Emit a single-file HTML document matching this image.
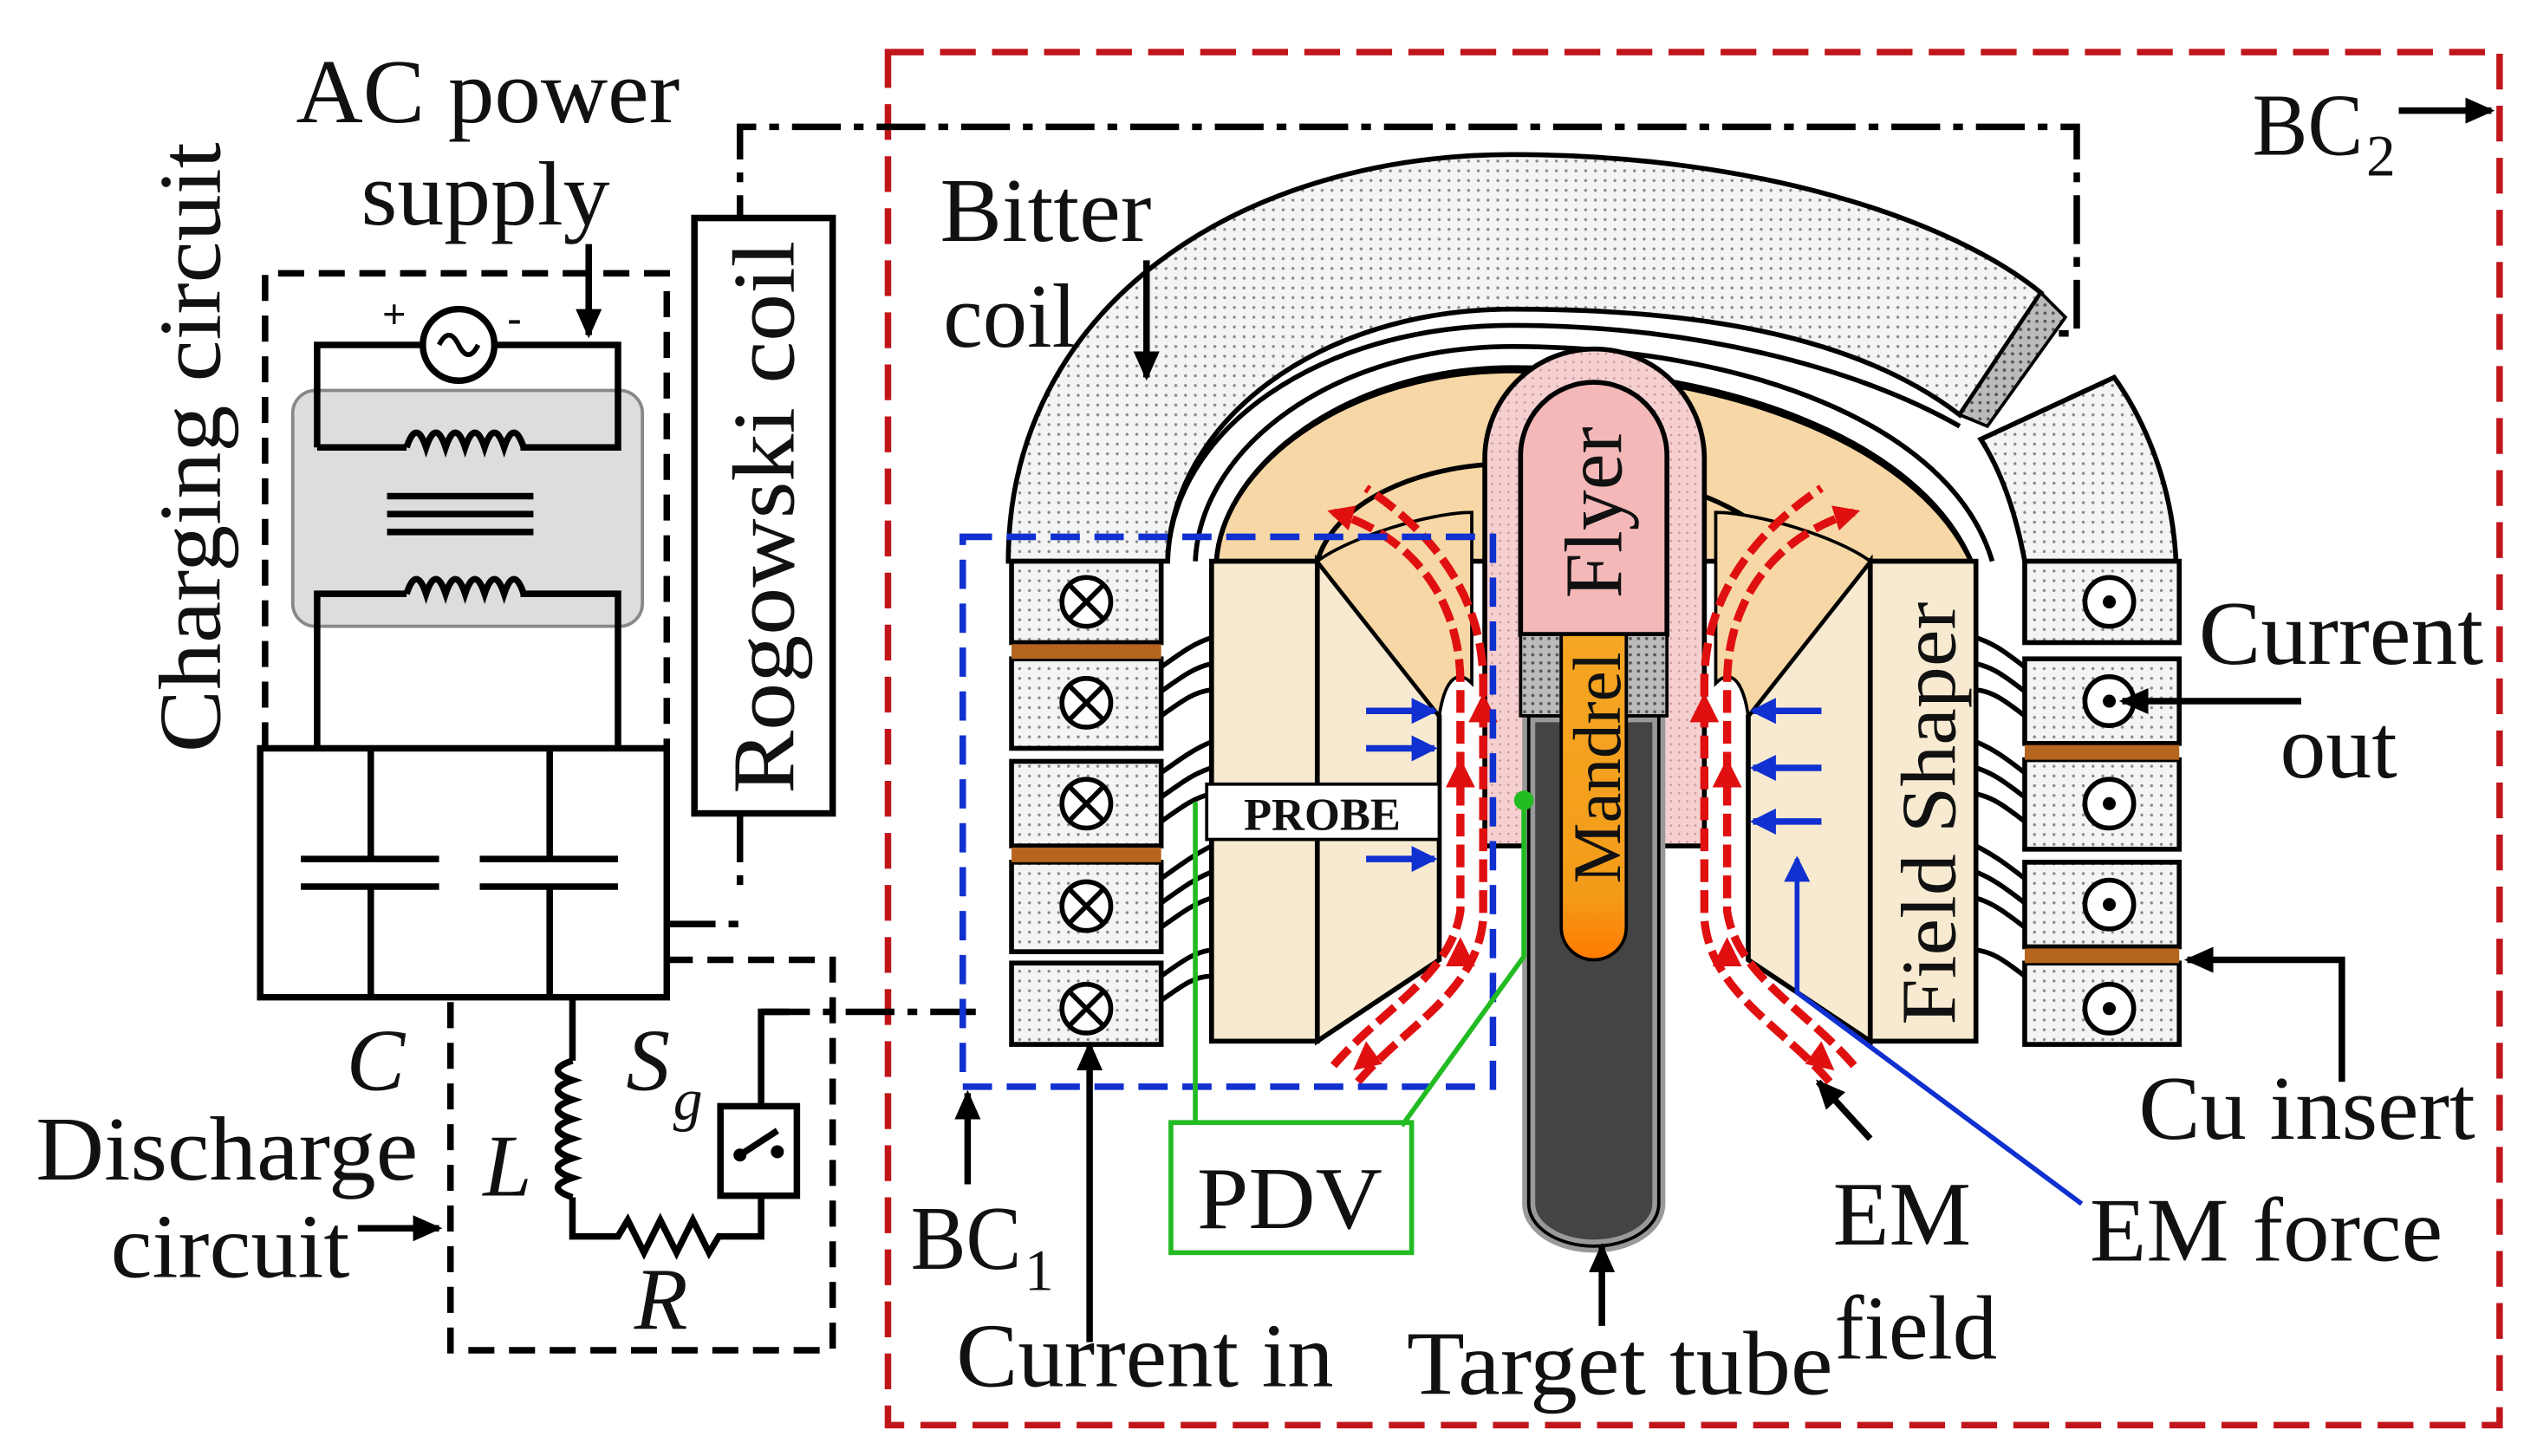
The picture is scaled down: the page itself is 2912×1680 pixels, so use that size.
<!DOCTYPE html>
<html><head><meta charset="utf-8"><style>
html,body{margin:0;padding:0;background:#fff;}
svg{display:block;}
text{font-family:"Liberation Serif",serif;fill:#111;}
</style></head><body>
<svg width="2912" height="1680" viewBox="0 0 1552 895" preserveAspectRatio="none" xmlns="http://www.w3.org/2000/svg">
<defs>
<pattern id="dots" width="6" height="6" patternUnits="userSpaceOnUse"><rect width="6" height="6" fill="#f4f4f4"/><circle cx="3" cy="3" r="0.9" fill="#888"/></pattern>
<pattern id="dots2" width="5" height="5" patternUnits="userSpaceOnUse"><rect width="5" height="5" fill="#bbb"/><circle cx="2.5" cy="2.5" r="1" fill="#555"/></pattern>
<pattern id="pdots" width="5" height="5" patternUnits="userSpaceOnUse"><rect width="5" height="5" fill="#f6d0d0"/><circle cx="2.5" cy="2.5" r="0.7" fill="#c99"/></pattern>
<linearGradient id="mand" x1="0" y1="0" x2="0" y2="1"><stop offset="0" stop-color="#f5a623"/><stop offset="0.8" stop-color="#f39c1a"/><stop offset="1" stop-color="#ff7a00"/></linearGradient>
<marker id="abk" markerWidth="20" markerHeight="20" refX="16" refY="10" orient="auto" markerUnits="userSpaceOnUse"><path d="M0,2 L18,10 L0,18 Z" fill="#000"/></marker>
<marker id="abl" markerWidth="18" markerHeight="18" refX="14" refY="9" orient="auto" markerUnits="userSpaceOnUse"><path d="M0,1 L16,9 L0,17 Z" fill="#1030d0"/></marker>
<marker id="abr" markerWidth="18" markerHeight="18" refX="12" refY="9" orient="auto" markerUnits="userSpaceOnUse"><path d="M0,1 L16,9 L0,17 Z" fill="#e01010"/></marker>
</defs>

<rect x="546" y="32" width="991" height="844" fill="none" stroke="#c0161b" stroke-width="4" stroke-dasharray="22 10"/>
<text x="1385" y="95" font-size="54" textLength="68" lengthAdjust="spacingAndGlyphs">BC</text><text x="1455" y="108" font-size="36">2</text>
<line x1="1475" y1="68" x2="1532" y2="68" stroke="#000" stroke-width="4" marker-end="url(#abk)"/>

<path d="M455 150 V78 H1277 V205 H1255" fill="none" stroke="#000" stroke-width="4" stroke-dasharray="30 8 6 8"/>
<path d="M455 500 V550 M410 568 H460 M468 622 H600" fill="none" stroke="#000" stroke-width="4" stroke-dasharray="30 8 6 8"/>

<path d="M620 345 C620 190 760 95 930 95 C1080 95 1200 135 1255 180 L1205 255 C1140 205 1040 190 930 190 C810 190 720 260 718 345 Z" fill="url(#dots)" stroke="#000" stroke-width="3"/>
<path d="M1255 180 L1270 195 L1222 262 L1205 255 Z" fill="url(#dots2)" stroke="#000" stroke-width="2"/>
<path d="M718 345 C720 265 810 200 930 200 C1050 200 1150 230 1205 268 L1238 345 Z" fill="#fff" stroke="none"/>
<path d="M718 345 C720 265 810 200 930 200 C1040 200 1140 225 1205 262" fill="none" stroke="#000" stroke-width="3"/>
<path d="M735 345 C738 275 820 213 930 213 C1070 213 1200 260 1225 345" fill="none" stroke="#000" stroke-width="3"/>
<path d="M748 345 C752 285 830 226 930 226 C1060 226 1180 270 1212 345" fill="none" stroke="#000" stroke-width="3"/>
<path d="M1218 270 L1300 232 C1320 260 1336 300 1338 345 L1245 345 C1240 318 1232 292 1218 270 Z" fill="url(#dots)" stroke="#000" stroke-width="3"/>

<path d="M748 345 C752 285 830 228 930 228 C1060 228 1178 272 1212 345 Z" fill="#f7d7a5" stroke="#000" stroke-width="3"/>
<path d="M810 345 C820 310 870 285 930 285 C1000 285 1080 305 1100 345" fill="none" stroke="#000" stroke-width="3"/>
<path d="M810 345 L885 440 M1150 345 L1075 440" stroke="#000" stroke-width="3"/>

<rect x="745" y="345" width="65" height="295" fill="#f7ead0" stroke="#000" stroke-width="3"/>
<path d="M810 345 L885 440 L885 590 L810 640 Z" fill="#f7ead0" stroke="#000" stroke-width="3"/>
<path d="M810 345 C830 330 880 315 905 315 L905 420 C895 410 888 420 885 440 Z" fill="#f7d7a5" stroke="#000" stroke-width="2"/>
<rect x="1150" y="345" width="65" height="295" fill="#f7ead0" stroke="#000" stroke-width="3"/>
<path d="M1150 345 L1075 440 L1075 590 L1150 640 Z" fill="#f7ead0" stroke="#000" stroke-width="3"/>
<path d="M1150 345 C1130 330 1080 315 1055 315 L1055 420 C1065 410 1072 420 1075 440 Z" fill="#f7d7a5" stroke="#000" stroke-width="2"/>
<text transform="translate(1202,500) rotate(-90)" font-size="48" text-anchor="middle" textLength="260" lengthAdjust="spacingAndGlyphs">Field Shaper</text>

<g stroke="#000" stroke-width="3">
<rect x="622" y="345" width="92" height="50" fill="url(#dots)"/>
<rect x="622" y="405" width="92" height="55" fill="url(#dots)"/>
<rect x="622" y="468" width="92" height="52" fill="url(#dots)"/>
<rect x="622" y="530" width="92" height="55" fill="url(#dots)"/>
<rect x="622" y="592" width="92" height="50" fill="url(#dots)"/>
</g>
<rect x="622" y="396" width="92" height="9" fill="#b5651d"/>
<rect x="622" y="521" width="92" height="9" fill="#b5651d"/>
<g fill="none" stroke="#000" stroke-width="3">
<path d="M714 410 C728 400 735 395 745 392 M714 425 C728 415 735 410 745 408 M714 440 C728 430 735 425 745 424 M714 475 C728 465 735 460 745 456 M714 490 C728 480 735 475 745 472 M714 505 C728 495 735 490 745 488 M714 540 C728 530 735 525 745 520 M714 555 C728 545 735 540 745 536 M714 570 C728 560 735 555 745 552 M714 600 C728 590 735 585 745 584 M714 615 C728 605 735 600 745 600"/>
</g>
<g fill="#fff" stroke="#000" stroke-width="3">
<circle cx="668" cy="370" r="15"/><circle cx="668" cy="432" r="15"/><circle cx="668" cy="494" r="15"/><circle cx="668" cy="557" r="15"/><circle cx="668" cy="620" r="15"/>
</g>
<g stroke="#000" stroke-width="3">
<path d="M657 359 L679 381 M679 359 L657 381"/>
<path d="M657 421 L679 443 M679 421 L657 443"/>
<path d="M657 483 L679 505 M679 483 L657 505"/>
<path d="M657 546 L679 568 M679 546 L657 568"/>
<path d="M657 609 L679 631 M679 609 L657 631"/>
</g>

<g stroke="#000" stroke-width="3">
<rect x="1245" y="345" width="95" height="50" fill="url(#dots)"/>
<rect x="1245" y="405" width="95" height="52" fill="url(#dots)"/>
<rect x="1245" y="467" width="95" height="55" fill="url(#dots)"/>
<rect x="1245" y="530" width="95" height="52" fill="url(#dots)"/>
<rect x="1245" y="592" width="95" height="50" fill="url(#dots)"/>
</g>
<rect x="1245" y="458" width="95" height="9" fill="#b5651d"/>
<rect x="1245" y="583" width="95" height="9" fill="#b5651d"/>
<g fill="none" stroke="#000" stroke-width="3">
<path d="M1245 410 C1232 400 1225 395 1215 392 M1245 425 C1232 415 1225 410 1215 408 M1245 440 C1232 430 1225 425 1215 424 M1245 475 C1232 465 1225 460 1215 456 M1245 490 C1232 480 1225 475 1215 472 M1245 505 C1232 495 1225 490 1215 488 M1245 540 C1232 530 1225 525 1215 520 M1245 555 C1232 545 1225 540 1215 536 M1245 570 C1232 560 1225 555 1215 552 M1245 600 C1232 590 1225 585 1215 584"/>
</g>
<g fill="#fff" stroke="#000" stroke-width="3">
<circle cx="1297" cy="370" r="15"/><circle cx="1297" cy="431" r="15"/><circle cx="1297" cy="494" r="15"/><circle cx="1297" cy="556" r="15"/><circle cx="1297" cy="620" r="15"/>
</g>
<g fill="#000"><circle cx="1297" cy="370" r="4"/><circle cx="1297" cy="431" r="4"/><circle cx="1297" cy="494" r="4"/><circle cx="1297" cy="556" r="4"/><circle cx="1297" cy="620" r="4"/></g>

<path d="M913 520 V282 A67 67 0 0 1 1048 282 V520 Z" fill="url(#pdots)" stroke="#000" stroke-width="3"/>
<path d="M935 390 V280 A45 45 0 0 1 1025 280 V390 Z" fill="#f4b8b8" stroke="#000" stroke-width="3"/>
<text transform="translate(997,315) rotate(-90)" font-size="50" text-anchor="middle">Flyer</text>
<path d="M940 440 V740 A40 26 0 0 0 1020 740 V440 Z" fill="#444" stroke="#999" stroke-width="8"/>
<path d="M940 440 V740 A40 26 0 0 0 1020 740 V440 Z" fill="none" stroke="#000" stroke-width="2"/>
<rect x="935" y="390" width="25" height="50" fill="url(#dots2)" stroke="#000" stroke-width="2"/>
<rect x="1000" y="390" width="25" height="50" fill="url(#dots2)" stroke="#000" stroke-width="2"/>
<path d="M960 390 V570 A20 20 0 0 0 1000 570 V390 Z" fill="url(#mand)" stroke="#000" stroke-width="2"/>
<text transform="translate(996,472) rotate(-90)" font-size="42" text-anchor="middle">Mandrel</text>

<g fill="none" stroke="#e01010" stroke-width="5" stroke-dasharray="14 5">
<path d="M820 655 C850 620 892 600 898 560 V420 C898 370 870 330 820 315" marker-end="url(#abr)"/>
<path d="M835 665 C865 630 908 610 912 565 V420 C912 370 885 330 840 300"/>
<path d="M1140 655 C1110 620 1068 600 1062 560 V420 C1062 370 1090 330 1140 315" marker-end="url(#abr)"/>
<path d="M1125 665 C1095 630 1052 610 1048 565 V420 C1048 370 1075 330 1120 300"/>
</g>
<g fill="#e01010">
<path d="M898 466 l-9 18 h18z M898 576 l-9 18 h18z M1062 466 l-9 18 h18z M1062 576 l-9 18 h18z M912 426 l-9 18 h18z M1048 426 l-9 18 h18z M840 640 l-8 18 l18 -4z M1120 640 l8 18 l-18 -4z"/>
</g>

<g stroke="#1030d0" stroke-width="4">
<line x1="840" y1="437" x2="882" y2="437" marker-end="url(#abl)"/>
<line x1="840" y1="460" x2="882" y2="460" marker-end="url(#abl)"/>
<line x1="840" y1="528" x2="882" y2="528" marker-end="url(#abl)"/>
<line x1="1120" y1="437" x2="1078" y2="437" marker-end="url(#abl)"/>
<line x1="1120" y1="472" x2="1078" y2="472" marker-end="url(#abl)"/>
<line x1="1120" y1="505" x2="1078" y2="505" marker-end="url(#abl)"/>
<path d="M1280 740 L1105 610 V528" fill="none" stroke-width="3" marker-end="url(#abl)"/>
</g>
<rect x="592" y="330" width="326" height="338" fill="none" stroke="#1030d0" stroke-width="4" stroke-dasharray="18 9"/>

<rect x="742" y="482" width="143" height="34" fill="#fff" stroke="#000" stroke-width="2"/>
<text x="813" y="510" font-size="28" font-weight="bold" text-anchor="middle">PROBE</text>
<g fill="none" stroke="#22bb22" stroke-width="3">
<path d="M735 493 V690"/>
<path d="M937 492 V588 L862 692"/>
<rect x="720" y="690" width="148" height="80"/>
</g>
<circle cx="937" cy="492" r="6" fill="#22bb22"/>
<text x="736" y="755" font-size="54" textLength="114" lengthAdjust="spacingAndGlyphs">PDV</text>

<g font-size="56">
<text x="578" y="148" textLength="130" lengthAdjust="spacingAndGlyphs">Bitter</text>
<text x="580" y="213" textLength="82" lengthAdjust="spacingAndGlyphs">coil</text>
<text x="560" y="780" textLength="68" lengthAdjust="spacingAndGlyphs">BC</text>
<text x="588" y="852" textLength="232" lengthAdjust="spacingAndGlyphs">Current in</text>
<text x="865" y="857" textLength="262" lengthAdjust="spacingAndGlyphs">Target tube</text>
<text x="1127" y="765" textLength="85" lengthAdjust="spacingAndGlyphs">EM</text>
<text x="1128" y="835" textLength="100" lengthAdjust="spacingAndGlyphs">field</text>
<text x="1285" y="775" textLength="217" lengthAdjust="spacingAndGlyphs">EM force</text>
<text x="1315" y="700" textLength="207" lengthAdjust="spacingAndGlyphs">Cu insert</text>
<text x="1352" y="408" textLength="175" lengthAdjust="spacingAndGlyphs">Current</text>
<text x="1402" y="478" textLength="72" lengthAdjust="spacingAndGlyphs">out</text>
<text x="182" y="75" textLength="236" lengthAdjust="spacingAndGlyphs">AC power</text>
<text x="222" y="138" textLength="153" lengthAdjust="spacingAndGlyphs">supply</text>
<text x="22" y="725" textLength="235" lengthAdjust="spacingAndGlyphs">Discharge</text>
<text x="68" y="785" textLength="147" lengthAdjust="spacingAndGlyphs">circuit</text>
</g>
<text x="630" y="793" font-size="36">1</text>
<line x1="705" y1="160" x2="705" y2="232" stroke="#000" stroke-width="4" marker-end="url(#abk)"/>
<line x1="595" y1="728" x2="595" y2="672" stroke="#000" stroke-width="4" marker-end="url(#abk)"/>
<line x1="670" y1="825" x2="670" y2="642" stroke="#000" stroke-width="4" marker-end="url(#abk)"/>
<line x1="985" y1="815" x2="985" y2="766" stroke="#000" stroke-width="4" marker-end="url(#abk)"/>
<line x1="1150" y1="700" x2="1118" y2="665" stroke="#000" stroke-width="4" marker-end="url(#abk)"/>
<path d="M1440 665 V590 H1345" fill="none" stroke="#000" stroke-width="4" marker-end="url(#abk)"/>
<line x1="1415" y1="431" x2="1305" y2="431" stroke="#000" stroke-width="4" marker-end="url(#abk)"/>

<line x1="362" y1="150" x2="362" y2="206" stroke="#000" stroke-width="4" marker-end="url(#abk)"/>
<text transform="translate(135,275) rotate(-90)" font-size="54" text-anchor="middle" textLength="375" lengthAdjust="spacingAndGlyphs">Charging circuit</text>
<path d="M163 460 V168 H410 V460" fill="none" stroke="#000" stroke-width="4" stroke-dasharray="16 9"/>
<rect x="180" y="240" width="215" height="145" rx="14" fill="#ddd" stroke="#888" stroke-width="2"/>
<g fill="none" stroke="#000" stroke-width="4">
<path d="M195 460 V365 H250 M320 365 H380 V460"/>
<path d="M195 275 V212 H380 V275 H320 M250 275 H195"/>
<path d="M250 275 q6 -18 12 0 q6 -18 12 0 q6 -18 12 0 q6 -18 12 0 q6 -18 12 0 q6 -18 12 0"/>
<path d="M250 365 q6 -18 12 0 q6 -18 12 0 q6 -18 12 0 q6 -18 12 0 q6 -18 12 0 q6 -18 12 0"/>
<path d="M238 305 H328 M238 316 H328 M238 327 H328"/>
</g>
<circle cx="282" cy="212" r="22" fill="#fff" stroke="#000" stroke-width="4"/>
<path d="M270 212 q6 -12 12 0 q6 12 12 0" fill="none" stroke="#000" stroke-width="3"/>
<text x="235" y="202" font-size="26" font-weight="bold">+</text>
<text x="312" y="204" font-size="26" font-weight="bold">-</text>

<rect x="427" y="134" width="85" height="366" fill="#fff" stroke="#000" stroke-width="4"/>
<text transform="translate(488,318) rotate(-90)" font-size="54" text-anchor="middle" textLength="340" lengthAdjust="spacingAndGlyphs">Rogowski coil</text>

<rect x="160" y="460" width="250" height="153" fill="#fff" stroke="#000" stroke-width="4"/>
<g stroke="#000" stroke-width="4">
<path d="M228 460 V528 M228 545 V613 M338 460 V528 M338 545 V613"/>
<path d="M185 528 H270 M185 545 H270 M295 528 H380 M295 545 H380"/>
</g>
<path d="M410 590 H512 V830 H277 V613" fill="none" stroke="#000" stroke-width="4" stroke-dasharray="16 9"/>
<g fill="none" stroke="#000" stroke-width="4">
<path d="M352 613 V652"/>
<path d="M352 652 q-18 6 0 12 q-18 6 0 12 q-18 6 0 12 q-18 6 0 12 q-18 6 0 12 q-18 6 0 12 q-18 6 0 12"/>
<path d="M352 736 V760 H380 l6 -10 l10 20 l10 -20 l10 20 l10 -20 l10 20 l6 -10 H468 V735"/>
<rect x="443" y="680" width="47" height="55"/>
<path d="M468 680 V622 H485"/>
<path d="M455 710 L478 695"/>
</g>
<circle cx="455" cy="710" r="4" fill="#000"/><circle cx="478" cy="708" r="4" fill="#000"/>
<text x="213" y="670" font-size="54" font-style="italic">C</text>
<text x="385" y="670" font-size="54" font-style="italic">S</text><text x="414" y="688" font-size="36" font-style="italic">g</text>
<text x="297" y="735" font-size="54" font-style="italic">L</text>
<text x="390" y="817" font-size="54" font-style="italic">R</text>
<line x1="220" y1="755" x2="270" y2="755" stroke="#000" stroke-width="4" marker-end="url(#abk)"/>
</svg>
</body></html>
